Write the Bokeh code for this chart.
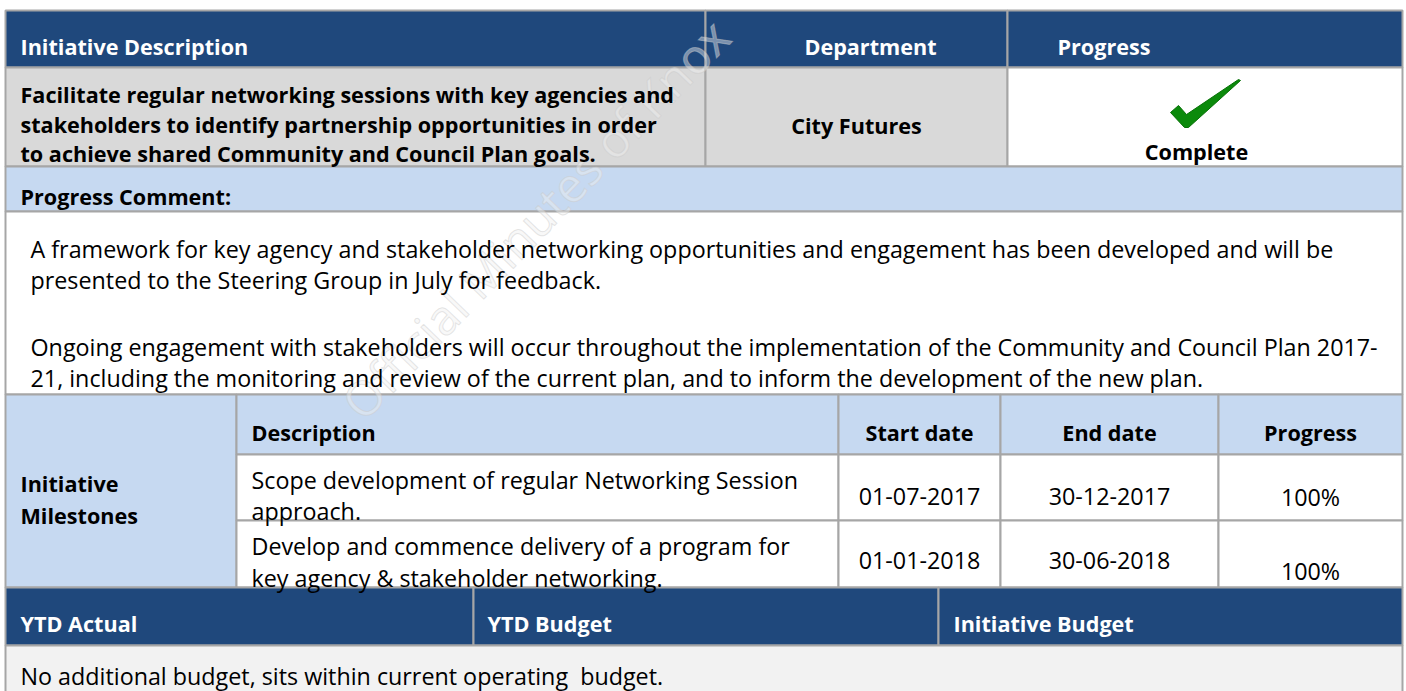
from bokeh.plotting import figure
from bokeh.models import Range1d
from bokeh.core.properties import value
from bokeh.embed import file_html
from bokeh.resources import INLINE
import math

# ---------------- data ----------------
top_headers = ["Initiative Description", "Department", "Progress"]
initiative_lines = [
    "Facilitate regular networking sessions with key agencies and",
    "stakeholders to identify partnership opportunities in order",
    "to achieve shared Community and Council Plan goals.",
]
department = "City Futures"
status = "Complete"
comment_label = "Progress Comment:"
comment_lines = [
    "A framework for key agency and stakeholder networking opportunities and engagement has been developed and will be",
    "presented to the Steering Group in July for feedback.",
    "Ongoing engagement with stakeholders will occur throughout the implementation of the Community and Council Plan 2017-",
    "21, including the monitoring and review of the current plan, and to inform the development of the new plan.",
]
milestone_label = ["Initiative", "Milestones"]
milestone_headers = ["Description", "Start date", "End date", "Progress"]
milestone_desc = [
    ["Scope development of regular Networking Session", "approach."],
    ["Develop and commence delivery of a program for", "key agency & stakeholder networking."],
]
start_dates = ["01-07-2017", "01-01-2018"]
end_dates = ["30-12-2017", "30-06-2018"]
progress_pct = [100, 100]
budget_headers = ["YTD Actual", "YTD Budget", "Initiative Budget"]
budget_note = "No additional budget, sits within current operating\u00a0 budget."
watermark = "Official Minutes of Knox"

# ---------------- styles / layout ----------------
DARK = "#1F487C"
LIGHT = "#C6D9F1"
GRAY = "#D9D9D9"
PALE = "#F2F2F2"
WHITE = "#FFFFFF"
BORDER = "#A6A6A6"
FONT = value("Open Sans")
FS_REG = "23.3px"
FS_BOLD = "21.6px"

L, R = 5, 1402
c_dep, c_prog = 705, 1007
m1, m2, m3, m4 = 236, 838, 1000, 1218
b1, b2 = 473, 938
y0, y1, y2, y3, y4 = 10, 67, 166, 211, 394
y5, y6, y7, y8, y10 = 454, 520, 587, 645, 700

p = figure(width=1406, height=691, output_backend="svg", toolbar_location=None,
           x_range=Range1d(0, 1406), y_range=Range1d(691, 0),
           min_border=0, outline_line_color=None)
p.axis.visible = False
p.grid.visible = False
p.background_fill_color = WHITE
p.border_fill_color = WHITE

cells = [
    # left, right, top, bottom, fill
    (L, c_dep, y0, y1, DARK), (c_dep, c_prog, y0, y1, DARK), (c_prog, R, y0, y1, DARK),
    (L, c_dep, y1, y2, GRAY), (c_dep, c_prog, y1, y2, GRAY), (c_prog, R, y1, y2, WHITE),
    (L, R, y2, y3, LIGHT),
    (L, R, y3, y4, WHITE),
    (L, m1, y4, y7, LIGHT),
    (m1, m2, y4, y5, LIGHT), (m2, m3, y4, y5, LIGHT), (m3, m4, y4, y5, LIGHT), (m4, R, y4, y5, LIGHT),
    (m1, m2, y5, y6, WHITE), (m2, m3, y5, y6, WHITE), (m3, m4, y5, y6, WHITE), (m4, R, y5, y6, WHITE),
    (m1, m2, y6, y7, WHITE), (m2, m3, y6, y7, WHITE), (m3, m4, y6, y7, WHITE), (m4, R, y6, y7, WHITE),
    (L, b1, y7, y8, DARK), (b1, b2, y7, y8, DARK), (b2, R, y7, y8, DARK),
    (L, R, y8, y10, PALE),
]
p.quad(left=[c[0] for c in cells], right=[c[1] for c in cells],
       top=[c[2] for c in cells], bottom=[c[3] for c in cells],
       fill_color=[c[4] for c in cells], line_color=BORDER, line_width=2)

# watermark
p.text(x=[350], y=[410], text=[watermark], angle=math.radians(46),
       text_font=FONT, text_font_size="48px", text_color="#F0F0F0",
       text_alpha=0.45, text_outline_color="#C8C8C8",
       text_baseline="alphabetic", text_align="left")


def txt(xs, ys, texts, bold=False, color="#000000", align="left"):
    p.text(x=xs, y=ys, text=texts, text_font=FONT,
           text_font_size=FS_BOLD if bold else FS_REG,
           text_font_style="bold" if bold else "normal", text_color=color,
           text_align=align, text_baseline="alphabetic")


# header row
txt([20], [46], [top_headers[0]], bold=True, color="white")
txt([870], [46], [top_headers[1]], bold=True, color="white", align="center")
txt([1057], [46], [top_headers[2]], bold=True, color="white")

# initiative row
txt([20] * 3, [94, 124, 153], initiative_lines, bold=True)
txt([(c_dep + c_prog) / 2], [125], [department], bold=True, align="center")
txt([1196], [151], [status], bold=True, align="center")

# check mark
cx, cy = 1205, 103
ck_x = [-35, -27, -19, 33, 35, -17, -21]
ck_y = [9, 2, 11, -24, -23, 24, 24]
p.patch(x=[cx + a for a in ck_x], y=[cy + b for b in ck_y],
        fill_color="#0B8A0B", line_color="#067006", line_width=1)

# progress comment
txt([20], [196], [comment_label], bold=True)
txt([30] * 4, [248, 279, 346, 377], comment_lines)

# milestones
txt([20, 20], [483, 515], milestone_label, bold=True)
txt([251], [432], [milestone_headers[0]], bold=True)
txt([(m2 + m3) / 2, (m3 + m4) / 2, (m4 + R) / 2], [432] * 3,
    milestone_headers[1:], bold=True, align="center")
desc_y = [[479, 510], [545, 577]]
date_y = [496, 560]
pct_y = [496, 570]
for i in range(len(milestone_desc)):
    txt([251, 251], desc_y[i], milestone_desc[i])
txt([(m2 + m3) / 2] * 2, date_y, start_dates, align="center")
txt([(m3 + m4) / 2] * 2, date_y, end_dates, align="center")
txt([(m4 + R) / 2] * 2, pct_y, [f"{v}%" for v in progress_pct], align="center")

# budget
txt([20, b1 + 14, b2 + 15], [623] * 3, budget_headers, bold=True, color="white")
txt([20], [675], [budget_note])

open("out.html", "w").write(file_html(p, INLINE))
